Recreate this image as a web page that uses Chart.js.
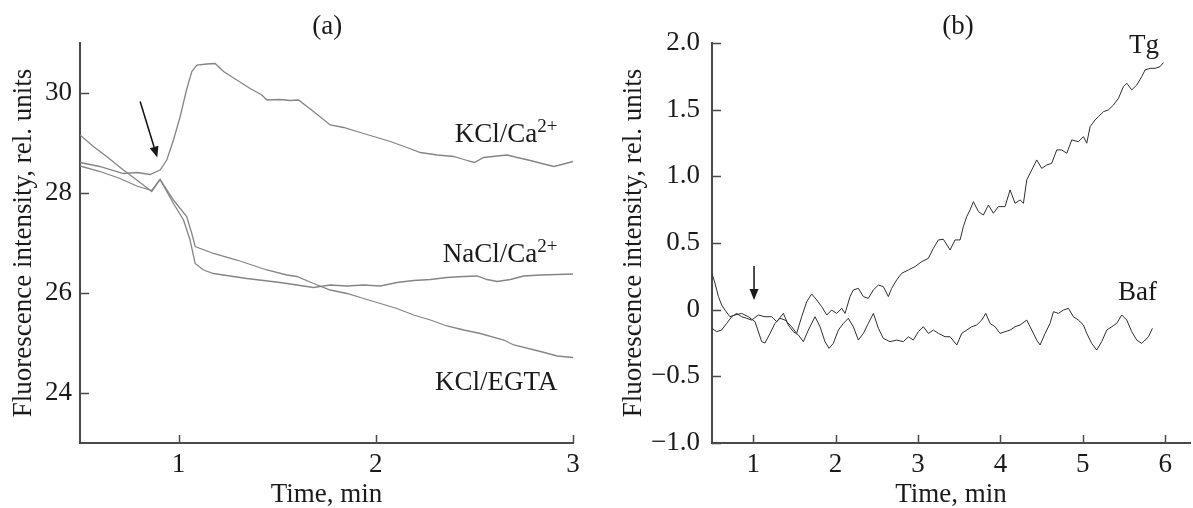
<!DOCTYPE html>
<html>
<head>
<meta charset="utf-8">
<script src="https://cdn.jsdelivr.net/npm/chart.js@4.4.1/dist/chart.umd.min.js"></script>
<style>
  body { margin: 0; background: #fff; }
  canvas { position: absolute; top: 0; }
</style>
</head>
<body>
<canvas id="panelA" width="590" height="508" style="left:0"></canvas>
<canvas id="panelB" width="603" height="508" style="left:590px"></canvas>
<script>
/* ============================================================
   Fluorescence traces — two panels (a) and (b)
   ============================================================ */

// ── Panel (a) data ─────────────────────────────────────────
const kclCaTime = [0.5, 0.6, 0.72, 0.79, 0.855, 0.906, 0.94, 0.974, 1.008, 1.04, 1.067, 1.092, 1.143, 1.185, 1.228, 1.295, 1.363, 1.422, 1.448, 1.515, 1.566, 1.608, 1.684, 1.769, 1.837, 1.904, 1.989, 2.074, 2.158, 2.226, 2.311, 2.395, 2.446, 2.5, 2.547, 2.615, 2.666, 2.717, 2.784, 2.852, 2.903, 2.953, 3.0];
const kclCaValue = [28.61, 28.53, 28.39, 28.41, 28.37, 28.46, 28.66, 29.06, 29.53, 30.06, 30.43, 30.56, 30.58, 30.59, 30.43, 30.26, 30.09, 29.96, 29.86, 29.87, 29.85, 29.86, 29.63, 29.36, 29.31, 29.23, 29.13, 29.03, 28.91, 28.81, 28.76, 28.73, 28.67, 28.61, 28.71, 28.74, 28.76, 28.71, 28.65, 28.58, 28.53, 28.58, 28.63];

const naclCaTime = [0.5, 0.568, 0.635, 0.72, 0.788, 0.864, 0.906, 0.974, 1.025, 1.058, 1.084, 1.126, 1.177, 1.261, 1.346, 1.431, 1.515, 1.6, 1.684, 1.769, 1.854, 1.938, 2.023, 2.107, 2.192, 2.277, 2.361, 2.446, 2.514, 2.564, 2.615, 2.683, 2.75, 2.835, 2.92, 3.0];
const naclCaValue = [29.16, 28.93, 28.73, 28.46, 28.26, 28.03, 28.27, 27.79, 27.46, 27.06, 26.59, 26.46, 26.39, 26.34, 26.29, 26.25, 26.21, 26.16, 26.11, 26.16, 26.14, 26.16, 26.14, 26.21, 26.25, 26.27, 26.31, 26.33, 26.34, 26.27, 26.23, 26.27, 26.34, 26.36, 26.37, 26.38];

const kclEgtaTime = [0.5, 0.602, 0.703, 0.788, 0.864, 0.906, 0.974, 1.041, 1.067, 1.084, 1.177, 1.295, 1.448, 1.549, 1.6, 1.684, 1.769, 1.854, 1.938, 2.023, 2.107, 2.192, 2.277, 2.361, 2.446, 2.53, 2.649, 2.7, 2.835, 2.92, 3.0];
const kclEgtaValue = [28.54, 28.43, 28.29, 28.14, 28.05, 28.27, 27.86, 27.53, 27.19, 26.93, 26.79, 26.66, 26.46, 26.36, 26.33, 26.19, 26.06, 25.99, 25.89, 25.79, 25.69, 25.56, 25.46, 25.34, 25.26, 25.19, 25.06, 24.96, 24.83, 24.74, 24.71];

const xTicksA = [1, 2, 3];
const yTicksA = [24, 26, 28, 30];

// ── Panel (b) data ─────────────────────────────────────────
const tgTime = [0.5, 0.536, 0.577, 0.617, 0.658, 0.718, 0.779, 0.86, 0.941, 1.022,
  1.103, 1.143, 1.204, 1.264, 1.325, 1.386, 1.467, 1.527, 1.588, 1.649,
  1.71, 1.77, 1.831, 1.892, 1.952, 2.013, 2.074, 2.114, 2.175, 2.215,
  2.276, 2.337, 2.397, 2.458, 2.519, 2.579, 2.64, 2.68, 2.741, 2.802,
  2.883, 2.963, 3.044, 3.125, 3.186, 3.247, 3.307, 3.389, 3.449, 3.51,
  3.55, 3.591, 3.631, 3.672, 3.733, 3.793, 3.854, 3.915, 3.975, 4.056,
  4.117, 4.177, 4.238, 4.279, 4.319, 4.38, 4.44, 4.501, 4.562, 4.622,
  4.683, 4.744, 4.805, 4.865, 4.946, 5.007, 5.047, 5.088, 5.148, 5.189,
  5.25, 5.31, 5.371, 5.432, 5.492, 5.533, 5.593, 5.654, 5.715, 5.755,
  5.816, 5.877, 5.937, 5.978];
const tgValue = [0.27, 0.2, 0.1, 0.035, -0.003, -0.053, -0.04, -0.028, -0.053, -0.09,
  -0.24, -0.25, -0.178, -0.103, -0.065, -0.078, -0.128, -0.178, -0.053, 0.06,
  0.118, 0.073, 0.023, -0.04, -0.003, -0.028, 0.01, -0.028, 0.098, 0.148,
  0.16, 0.098, 0.085, 0.148, 0.185, 0.173, 0.098, 0.16, 0.223, 0.273,
  0.298, 0.323, 0.36, 0.385, 0.46, 0.523, 0.528, 0.448, 0.523, 0.523,
  0.623, 0.698, 0.748, 0.81, 0.735, 0.71, 0.785, 0.723, 0.773, 0.773,
  0.898, 0.798, 0.823, 0.798, 0.973, 1.048, 1.123, 1.06, 1.085, 1.098,
  1.198, 1.198, 1.173, 1.273, 1.26, 1.298, 1.248, 1.373, 1.423, 1.448,
  1.485, 1.498, 1.535, 1.585, 1.673, 1.698, 1.648, 1.685, 1.748, 1.798,
  1.81, 1.81, 1.823, 1.853];

const bafTime = [0.5, 0.557, 0.617, 0.678, 0.739, 0.799, 0.86, 0.921, 0.981, 1.062,
  1.143, 1.224, 1.285, 1.366, 1.426, 1.487, 1.548, 1.608, 1.669, 1.75,
  1.811, 1.871, 1.92, 1.972, 2.033, 2.094, 2.154, 2.215, 2.276, 2.337,
  2.397, 2.458, 2.519, 2.579, 2.66, 2.741, 2.822, 2.883, 2.943, 3.004,
  3.065, 3.125, 3.186, 3.247, 3.328, 3.389, 3.47, 3.53, 3.591, 3.652,
  3.712, 3.773, 3.822, 3.874, 3.935, 3.995, 4.056, 4.117, 4.177, 4.238,
  4.319, 4.38, 4.44, 4.481, 4.542, 4.602, 4.643, 4.703, 4.764, 4.825,
  4.885, 4.946, 5.007, 5.047, 5.108, 5.168, 5.229, 5.29, 5.351, 5.411,
  5.472, 5.533, 5.593, 5.654, 5.715, 5.755, 5.796, 5.844];
const bafValue = [-0.14, -0.165, -0.152, -0.103, -0.053, -0.028, -0.053, -0.065, -0.078, -0.04,
  -0.053, -0.053, -0.09, -0.028, -0.115, -0.165, -0.19, -0.24, -0.153, -0.053,
  -0.128, -0.24, -0.29, -0.253, -0.153, -0.103, -0.065, -0.128, -0.228, -0.178,
  -0.103, -0.028, -0.14, -0.215, -0.24, -0.228, -0.24, -0.203, -0.228, -0.165,
  -0.128, -0.178, -0.153, -0.178, -0.203, -0.203, -0.265, -0.178, -0.153, -0.128,
  -0.115, -0.078, -0.028, -0.103, -0.128, -0.178, -0.165, -0.153, -0.128, -0.115,
  -0.078, -0.153, -0.228, -0.265, -0.178, -0.103, -0.015, -0.028, -0.003, 0.01,
  -0.053, -0.078, -0.115, -0.178, -0.253, -0.303, -0.24, -0.153, -0.128, -0.103,
  -0.04, -0.078, -0.165, -0.228, -0.253, -0.228, -0.203, -0.14];

const xTicksB = [1, 2, 3, 4, 5, 6];
const yTicksB = [-1.0, -0.5, 0, 0.5, 1.0, 1.5, 2.0];

// ── Common look ─────────────────────────────────────────────
const FONT = "'Liberation Serif', 'Times New Roman', serif";
const TEXT = '#1a1a1a';
const AXIS = '#4a4a4a';
const Y_TITLE = 'Fluorescence intensity, rel. units';
const X_TITLE = 'Time, min';

const toPoints = (xs, ys) => xs.map((x, i) => ({ x, y: ys[i] }));
const fmtMinus = v => (v < 0 ? '\u2212' : '') + Math.abs(v).toFixed(1);

// ── Inward tick marks ───────────────────────────────────────
const inwardTicks = {
  id: 'inwardTicks',
  afterDraw(chart) {
    const { ctx, chartArea: a, scales: { x, y } } = chart;
    ctx.save();
    ctx.strokeStyle = AXIS;
    ctx.lineWidth = 1.5;
    ctx.beginPath();
    x.ticks.forEach(t => {
      const px = Math.round(x.getPixelForValue(t.value)) + 0.5;
      ctx.moveTo(px, a.bottom);
      ctx.lineTo(px, a.bottom - 8);
    });
    y.ticks.forEach(t => {
      const py = Math.round(y.getPixelForValue(t.value)) + 0.5;
      ctx.moveTo(a.left, py);
      ctx.lineTo(a.left + 9, py);
    });
    ctx.stroke();
    ctx.restore();
  }
};

// ── Text labels and arrows placed in data units ─────────────
const notes = {
  id: 'notes',
  afterDraw(chart, args, opts) {
    const { ctx, scales: { x, y } } = chart;
    ctx.save();
    ctx.fillStyle = TEXT;
    (opts.texts || []).forEach(t => {
      const px = x.getPixelForValue(t.x);
      const py = y.getPixelForValue(t.y);
      ctx.textBaseline = t.baseline || 'alphabetic';
      if (t.sup) {
        // superscript sits at the right edge, main text ends where it starts
        ctx.font = `19px ${FONT}`;
        const sw = ctx.measureText(t.sup).width;
        ctx.textAlign = 'left';
        ctx.fillText(t.sup, px - sw, py - 10);
        ctx.font = `27px ${FONT}`;
        ctx.textAlign = 'right';
        ctx.fillText(t.text, px - sw, py);
      } else {
        ctx.font = `27px ${FONT}`;
        ctx.textAlign = t.align || 'left';
        ctx.fillText(t.text, px, py);
      }
    });
    (opts.arrows || []).forEach(ar => {
      const x0 = x.getPixelForValue(ar.x0), y0 = y.getPixelForValue(ar.y0);
      const x1 = x.getPixelForValue(ar.x1), y1 = y.getPixelForValue(ar.y1);
      const ang = Math.atan2(y1 - y0, x1 - x0);
      const head = 11, half = 4.5;
      const bx = x1 - head * Math.cos(ang), by = y1 - head * Math.sin(ang);
      ctx.strokeStyle = '#111';
      ctx.lineWidth = 1.5;
      ctx.beginPath();
      ctx.moveTo(x0, y0);
      ctx.lineTo(bx, by);
      ctx.stroke();
      ctx.beginPath();
      ctx.moveTo(x1, y1);
      ctx.lineTo(bx + half * Math.sin(ang), by - half * Math.cos(ang));
      ctx.lineTo(bx - half * Math.sin(ang), by + half * Math.cos(ang));
      ctx.closePath();
      ctx.fill();
    });
    ctx.restore();
  }
};

// ── Panel builder ───────────────────────────────────────────
function makePanel(canvasId, cfg) {
  const ctx = document.getElementById(canvasId).getContext('2d');
  return new Chart(ctx, {
    type: 'line',
    data: {
      datasets: cfg.series.map(s => ({
        data: toPoints(s.time, s.value),
        borderColor: cfg.lineColor,
        borderWidth: cfg.lineWidth,
        pointRadius: 0,
        fill: false,
        tension: 0
      }))
    },
    options: {
      responsive: false,
      animation: false,
      layout: { padding: { top: 43, right: cfg.padRight, bottom: 0, left: 0 } },
      plugins: {
        legend: { display: false },
        tooltip: { enabled: false },
        notes: { texts: cfg.texts, arrows: cfg.arrows }
      },
      scales: {
        x: {
          type: 'linear',
          min: cfg.xMin, max: cfg.xMax,
          afterBuildTicks: s => { s.ticks = cfg.xTicks.map(v => ({ value: v })); },
          afterFit: s => { s.height = 65; },
          grid: { display: true, drawOnChartArea: false, drawTicks: false },
          border: { display: true, color: AXIS, width: 2 },
          ticks: {
            color: TEXT, padding: 8,
            font: { family: FONT, size: 27, lineHeight: 1 },
            callback: v => String(v)
          },
          title: {
            display: true, text: X_TITLE, color: TEXT,
            font: { family: FONT, size: 27, lineHeight: 1 },
            padding: { top: 0, bottom: 0 }
          }
        },
        y: {
          type: 'linear',
          min: cfg.yMin, max: cfg.yMax,
          afterBuildTicks: s => { s.ticks = cfg.yTicks.map(v => ({ value: v })); },
          afterFit: s => { s.width = cfg.yWidth; },
          grid: { display: true, drawOnChartArea: false, drawTicks: false },
          border: { display: true, color: AXIS, width: 2 },
          ticks: {
            color: TEXT, padding: cfg.yTickPad,
            font: { family: FONT, size: 27, lineHeight: 1 },
            callback: cfg.yFormat
          },
          title: {
            display: true, text: Y_TITLE, color: TEXT,
            font: { family: FONT, size: 27, lineHeight: 1 },
            padding: { top: cfg.yTitlePad, bottom: 0 }
          }
        }
      }
    },
    plugins: [inwardTicks, notes]
  });
}

// ── Panel (a) ───────────────────────────────────────────────
makePanel('panelA', {
  series: [
    { time: kclCaTime, value: kclCaValue },
    { time: naclCaTime, value: naclCaValue },
    { time: kclEgtaTime, value: kclEgtaValue }
  ],
  lineColor: '#858585', lineWidth: 1.3,
  xMin: 0.5, xMax: 3, xTicks: xTicksA,
  yMin: 23, yMax: 31, yTicks: yTicksA,
  yWidth: 80, yTickPad: 8, yTitlePad: 10, padRight: 17,
  yFormat: v => String(v),
  texts: [
    { text: '(a)', x: 1.754, y: 31.32, align: 'center', baseline: 'middle' },
    { text: 'KCl/Ca', sup: '2+', x: 2.921, y: 29.02 },
    { text: 'NaCl/Ca', sup: '2+', x: 2.921, y: 26.63 },
    { text: 'KCl/EGTA', x: 2.921, y: 24.06, align: 'right' }
  ],
  arrows: [{ x0: 0.805, y0: 29.83, x1: 0.892, y1: 28.71 }]
});

// ── Panel (b) ───────────────────────────────────────────────
makePanel('panelB', {
  series: [
    { time: tgTime, value: tgValue },
    { time: bafTime, value: bafValue }
  ],
  lineColor: '#2e2e2e', lineWidth: 1,
  xMin: 0.5, xMax: 6.3, xTicks: xTicksB,
  yMin: -1, yMax: 2, yTicks: yTicksB,
  yWidth: 122, yTickPad: 12, yTitlePad: 30, padRight: 3,
  yFormat: v => (v === 0 ? '0' : fmtMinus(v)),
  texts: [
    { text: '(b)', x: 3.485, y: 2.12, align: 'center', baseline: 'middle' },
    { text: 'Tg', x: 5.925, y: 1.925, align: 'right' },
    { text: 'Baf', x: 5.9, y: 0.073, align: 'right' }
  ],
  arrows: [{ x0: 1.01, y0: 0.328, x1: 1.01, y1: 0.072 }]
});
</script>
</body>
</html>
